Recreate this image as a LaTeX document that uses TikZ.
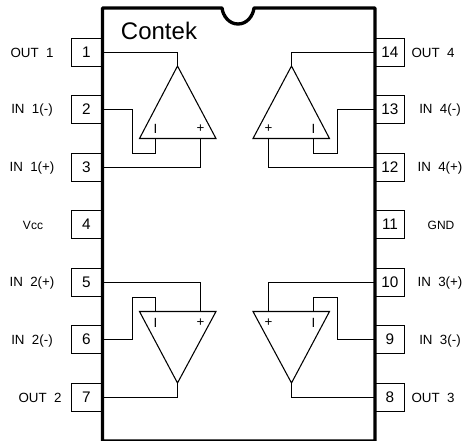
\documentclass[tikz,border=0pt]{standalone}
\usepackage{fontspec}
\setmainfont{Liberation Sans}
\tikzset{
  x=0.75pt,y=-0.75pt,
  pinbox/.style={draw=black,line width=0.85pt,fill=white,minimum width=22pt,minimum height=21.6pt,inner sep=0pt,font=\fontsize{11.5}{13}\selectfont},
  pinlabel/.style={inner sep=0pt,font=\fontsize{10}{12}\selectfont},
  smalllabel/.style={inner sep=0pt,font=\fontsize{9}{11}\selectfont},
  wire/.style={line width=0.85pt,line join=miter},
  amp/.style={line width=0.8pt,line join=miter},
  sign/.style={inner sep=0pt,font=\fontsize{10}{12}\selectfont},
  chip/.style={line width=2.5pt,line join=round}
}
\def\sp{\hspace{0.556em}}
\begin{document}
\begin{tikzpicture}
\useasboundingbox (0,0) rectangle (465,440);
% pins
\node[pinbox] (p1) at (86.5,52.5) {1};
\node[pinbox] (p2) at (86.5,109.5) {2};
\node[pinbox] (p3) at (86.5,167.5) {3};
\node[pinbox] (p4) at (86.5,224.5) {4};
\node[pinbox] (p5) at (86.5,282.5) {5};
\node[pinbox] (p6) at (86.5,339.5) {6};
\node[pinbox] (p7) at (86.5,397.5) {7};
\node[pinbox] (p14) at (390,52.5) {14};
\node[pinbox] (p13) at (390,109.5) {13};
\node[pinbox] (p12) at (390,167.5) {12};
\node[pinbox] (p11) at (390,224.5) {11};
\node[pinbox] (p10) at (390,282.5) {10};
\node[pinbox] (p9) at (390,339.5) {9};
\node[pinbox] (p8) at (390,397.5) {8};
% chip outline
\draw[chip] (102.5,441) -- (102.5,8) -- (222,8)
  .. controls (223,16) and (229,24) .. (238,24)
  .. controls (247,24) and (253,16) .. (254,8)
  -- (375,8) -- (375,441) -- cycle;
\node[inner sep=0pt,font=\fontsize{18}{20}\selectfont] (brand) at (159,30.5) {Contek};
% labels
\node[pinlabel] (l1) at (32,53) {OUT\sp 1};
\node[pinlabel] (l2) at (32,110.5) {IN\sp 1(-)};
\node[pinlabel] (l3) at (32,168.5) {IN\sp 1(+)};
\node[smalllabel] (l4) at (33,225) {Vcc};
\node[pinlabel] (l5) at (32,283.5) {IN\sp 2(+)};
\node[pinlabel] (l6) at (32,341.5) {IN\sp 2(-)};
\node[pinlabel] (l7) at (40,398) {OUT\sp 2};
\node[pinlabel] (l14) at (433,53) {OUT\sp 4};
\node[pinlabel] (l13) at (440,110.5) {IN\sp 4(-)};
\node[pinlabel] (l12) at (440,168.5) {IN\sp 4(+)};
\node[smalllabel] (l11) at (441,225) {GND};
\node[pinlabel] (l10) at (440,283.5) {IN\sp 3(+)};
\node[pinlabel] (l9) at (440,341.5) {IN\sp 3(-)};
\node[pinlabel] (l8) at (433,398) {OUT\sp 3};
% amp coordinates
\coordinate (a1) at (177.5,66);
\coordinate (a1l) at (139.5,138.5);
\coordinate (a1r) at (216,138.5);
\coordinate (a1m) at (155.5,138.5);
\coordinate (a1p) at (200.5,138.5);
\coordinate (a4) at (291.5,66);
\coordinate (a4l) at (253,138.5);
\coordinate (a4r) at (329.5,138.5);
\coordinate (a4p) at (268.5,138.5);
\coordinate (a4m) at (313.5,138.5);
\coordinate (a2) at (177.5,383);
\coordinate (a2l) at (139.5,311.5);
\coordinate (a2r) at (216,311.5);
\coordinate (a2m) at (155.5,311.5);
\coordinate (a2p) at (200.5,311.5);
\coordinate (a3) at (291.5,383);
\coordinate (a3l) at (253,311.5);
\coordinate (a3r) at (329.5,311.5);
\coordinate (a3p) at (268.5,311.5);
\coordinate (a3m) at (313.5,311.5);
% amps
\draw[amp] (a1) -- (a1l) -- (a1r) -- cycle;
\draw[amp] (a4) -- (a4l) -- (a4r) -- cycle;
\draw[amp] (a2) -- (a2l) -- (a2r) -- cycle;
\draw[amp] (a3) -- (a3l) -- (a3r) -- cycle;
% signs
\node[sign] (s1m) at (155.5,128.5) {I};
\node[sign] (s1p) at (200.5,128.5) {+};
\node[sign] (s4p) at (268.5,128.5) {+};
\node[sign] (s4m) at (313.5,128.5) {I};
\node[sign] (s2m) at (155.5,322.5) {I};
\node[sign] (s2p) at (200.5,322.5) {+};
\node[sign] (s3p) at (268.5,322.5) {+};
\node[sign] (s3m) at (313.5,322.5) {I};
% wires
\draw[wire] (p1.east) -- (a1 |- p1.east) -- (a1);
\draw[wire] (p2.east) -- (132.5,109.5) -- (132.5,153.5) -- (155.5,153.5) -- (a1m);
\draw[wire] (p3.east) -- (a1p |- p3.east) -- (a1p);
\draw[wire] (p14.west) -- (a4 |- p14.west) -- (a4);
\draw[wire] (p13.west) -- (337.5,109.5) -- (337.5,153.5) -- (313.5,153.5) -- (a4m);
\draw[wire] (p12.west) -- (a4p |- p12.west) -- (a4p);
\draw[wire] (p5.east) -- (a2p |- p5.east) -- (a2p);
\draw[wire] (p6.east) -- (132.5,339.5) -- (132.5,297.5) -- (155.5,297.5) -- (a2m);
\draw[wire] (p7.east) -- (a2 |- p7.east) -- (a2);
\draw[wire] (p10.west) -- (a3p |- p10.west) -- (a3p);
\draw[wire] (p9.west) -- (337.5,339.5) -- (337.5,297.5) -- (313.5,297.5) -- (a3m);
\draw[wire] (p8.west) -- (a3 |- p8.west) -- (a3);
\end{tikzpicture}
\end{document}
